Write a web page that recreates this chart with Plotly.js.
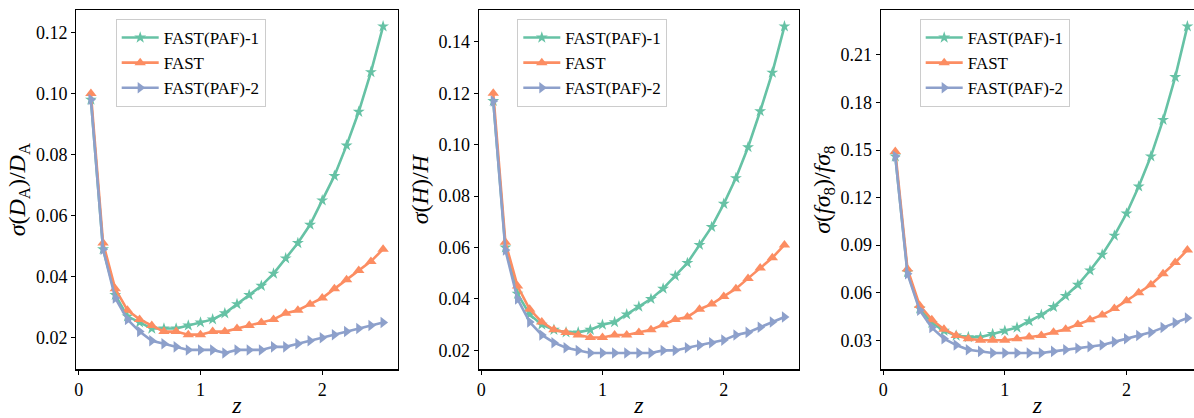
<!DOCTYPE html>
<html>
<head>
<meta charset="utf-8">
<script src="https://cdn.plot.ly/plotly-3.0.1.min.js"></script>
<style>html,body{margin:0;padding:0;background:#fff;}#chart{width:1194px;height:418px;}</style>
</head>
<body>
<div id="chart"></div>
<script>
const z = [0.1,0.2,0.3,0.4,0.5,0.6,0.7,0.8,0.9,1.0,1.1,1.2,1.3,1.4,1.5,1.6,1.7,1.8,1.9,2.0,2.1,2.2,2.3,2.4,2.5];
const seriesNames = ["FAST(PAF)-1","FAST","FAST(PAF)-2"];

const da_paf1 = [0.098,0.049,0.034,0.027,0.025,0.023,0.023,0.023,0.024,0.025,0.026,0.028,0.031,0.034,0.037,0.041,0.046,0.051,0.057,0.065,0.073,0.083,0.094,0.107,0.122];
const da_fast = [0.100,0.051,0.036,0.029,0.026,0.024,0.022,0.022,0.021,0.021,0.022,0.022,0.023,0.024,0.025,0.026,0.028,0.029,0.031,0.033,0.036,0.039,0.042,0.045,0.049];
const da_paf2 = [0.098,0.049,0.033,0.026,0.022,0.019,0.018,0.017,0.016,0.016,0.016,0.015,0.016,0.016,0.016,0.017,0.017,0.018,0.019,0.020,0.021,0.022,0.023,0.024,0.025];

const h_paf1 = [0.117,0.060,0.042,0.034,0.030,0.028,0.027,0.027,0.028,0.030,0.031,0.034,0.037,0.040,0.044,0.049,0.054,0.061,0.068,0.077,0.087,0.099,0.113,0.128,0.146];
const h_fast = [0.120,0.062,0.045,0.036,0.031,0.028,0.027,0.026,0.025,0.025,0.026,0.026,0.027,0.028,0.030,0.032,0.033,0.036,0.038,0.041,0.044,0.048,0.052,0.056,0.061];
const h_paf2 = [0.117,0.059,0.040,0.031,0.026,0.023,0.021,0.020,0.019,0.019,0.019,0.019,0.019,0.019,0.020,0.020,0.021,0.022,0.023,0.024,0.026,0.027,0.029,0.031,0.033];

const f_paf1 = [0.146,0.073,0.050,0.041,0.036,0.033,0.032,0.032,0.034,0.036,0.038,0.042,0.046,0.051,0.058,0.065,0.074,0.084,0.096,0.110,0.127,0.146,0.169,0.196,0.228];
const f_fast = [0.149,0.075,0.052,0.043,0.037,0.033,0.031,0.030,0.030,0.030,0.031,0.032,0.033,0.035,0.037,0.040,0.043,0.046,0.050,0.055,0.060,0.065,0.072,0.079,0.087];
const f_paf2 = [0.146,0.072,0.049,0.038,0.031,0.027,0.024,0.023,0.022,0.022,0.022,0.022,0.022,0.023,0.024,0.025,0.026,0.027,0.029,0.031,0.033,0.035,0.038,0.041,0.044];

const yTitles = [
  "<i>σ</i>(<i>D</i><sub>A</sub>)/<i>D</i><sub>A</sub>",
  "<i>σ</i>(<i>H</i>)/<i>H</i>",
  "<i>σ</i>(<i>fσ</i><sub>8</sub>)/<i>fσ</i><sub>8</sub>"
];
const yTicks = [
  [0.02,0.04,0.06,0.08,0.10,0.12],
  [0.02,0.04,0.06,0.08,0.10,0.12,0.14],
  [0.03,0.06,0.09,0.12,0.15,0.18,0.21]
];
const xTicks = [0,1,2];

const panels = [[da_paf1,da_fast,da_paf2],[h_paf1,h_fast,h_paf2],[f_paf1,f_fast,f_paf2]];
const colors = ["#66c2a5","#fc8d62","#8da0cb"];
const symbols = ["star","triangle-up","triangle-right"];
const msizes = [9,10,10];

const FONT = "Liberation Serif";
const W = 1194, H = 418;
const xdom = [[76.3/W,397.7/W],[478.7/W,799/W],[880.7/W,1.0]];
const ydom = [1-369.3/H, 1-10/H];
const legX = [115.7/W, 517.3/W, 919.7/W];

const traces = [];
panels.forEach((p,pi)=>{
  p.forEach((ys,si)=>{
    traces.push({
      x: z, y: ys, type:"scatter", mode:"lines+markers",
      name: seriesNames[si],
      xaxis: pi===0?"x":"x"+(pi+1),
      yaxis: pi===0?"y":"y"+(pi+1),
      legend: pi===0?"legend":"legend"+(pi+1),
      line:{color:colors[si], width:2.6},
      marker:{symbol:symbols[si], size:msizes[si], color:colors[si], line:{width:0}},
      showlegend:true
    });
  });
});

const layout = {
  width:W, height:H,
  margin:{l:0,r:0,t:0,b:0},
  paper_bgcolor:"#fff", plot_bgcolor:"#fff",
  font:{family:FONT, color:"#000", size:16},
  shapes:[]
};
panels.forEach((p,pi)=>{
  const all = [].concat(...p);
  const mn = Math.min(...all), mx = Math.max(...all);
  const pad = (mx-mn)*0.05;
  const sfx = pi===0?"":String(pi+1);
  layout["xaxis"+sfx] = {
    domain: xdom[pi], anchor: "y"+sfx,
    range: pi===2 ? [-0.02, -0.02 + (W-880.7)/121.7] : [-0.02, 2.62],
    tickvals: xTicks, ticktext: xTicks.map(String),
    ticks:"outside", ticklen:4, tickwidth:1, tickcolor:"#000",
    showline:true, linecolor:"#000", linewidth:1.2, mirror:true,
    showgrid:false, zeroline:false,
    tickfont:{family:FONT,size:18,color:"#000"},
    title:{text:"<i>z</i>", font:{family:FONT,size:24,color:"#000"}, standoff:5}
  };
  layout["yaxis"+sfx] = {
    domain: ydom, anchor: "x"+sfx,
    range: [mn-pad, mx+pad],
    tickvals: yTicks[pi], ticktext: yTicks[pi].map(v=>v.toFixed(2)),
    ticks:"outside", ticklen:4, tickwidth:1, tickcolor:"#000",
    showline:true, linecolor:"#000", linewidth:1.2, mirror: pi===2 ? false : true,
    showgrid:false, zeroline:false,
    tickfont:{family:FONT,size:18,color:"#000"},
    title:{text:yTitles[pi], font:{family:FONT,size:24,color:"#000"}, standoff:3}
  };
  const lk = pi===0?"legend":"legend"+(pi+1);
  layout[lk] = {
    x: legX[pi], y: 1-19/H, xanchor:"left", yanchor:"top",
    xref:"paper", yref:"paper",
    bgcolor:"rgba(255,255,255,0.8)", bordercolor:"#cccccc", borderwidth:1,
    font:{family:FONT,size:17,color:"#000"},
    tracegroupgap:0, itemwidth:37
  };
});

Plotly.newPlot("chart", traces, layout, {staticPlot:true, displayModeBar:false});
</script>
</body>
</html>
